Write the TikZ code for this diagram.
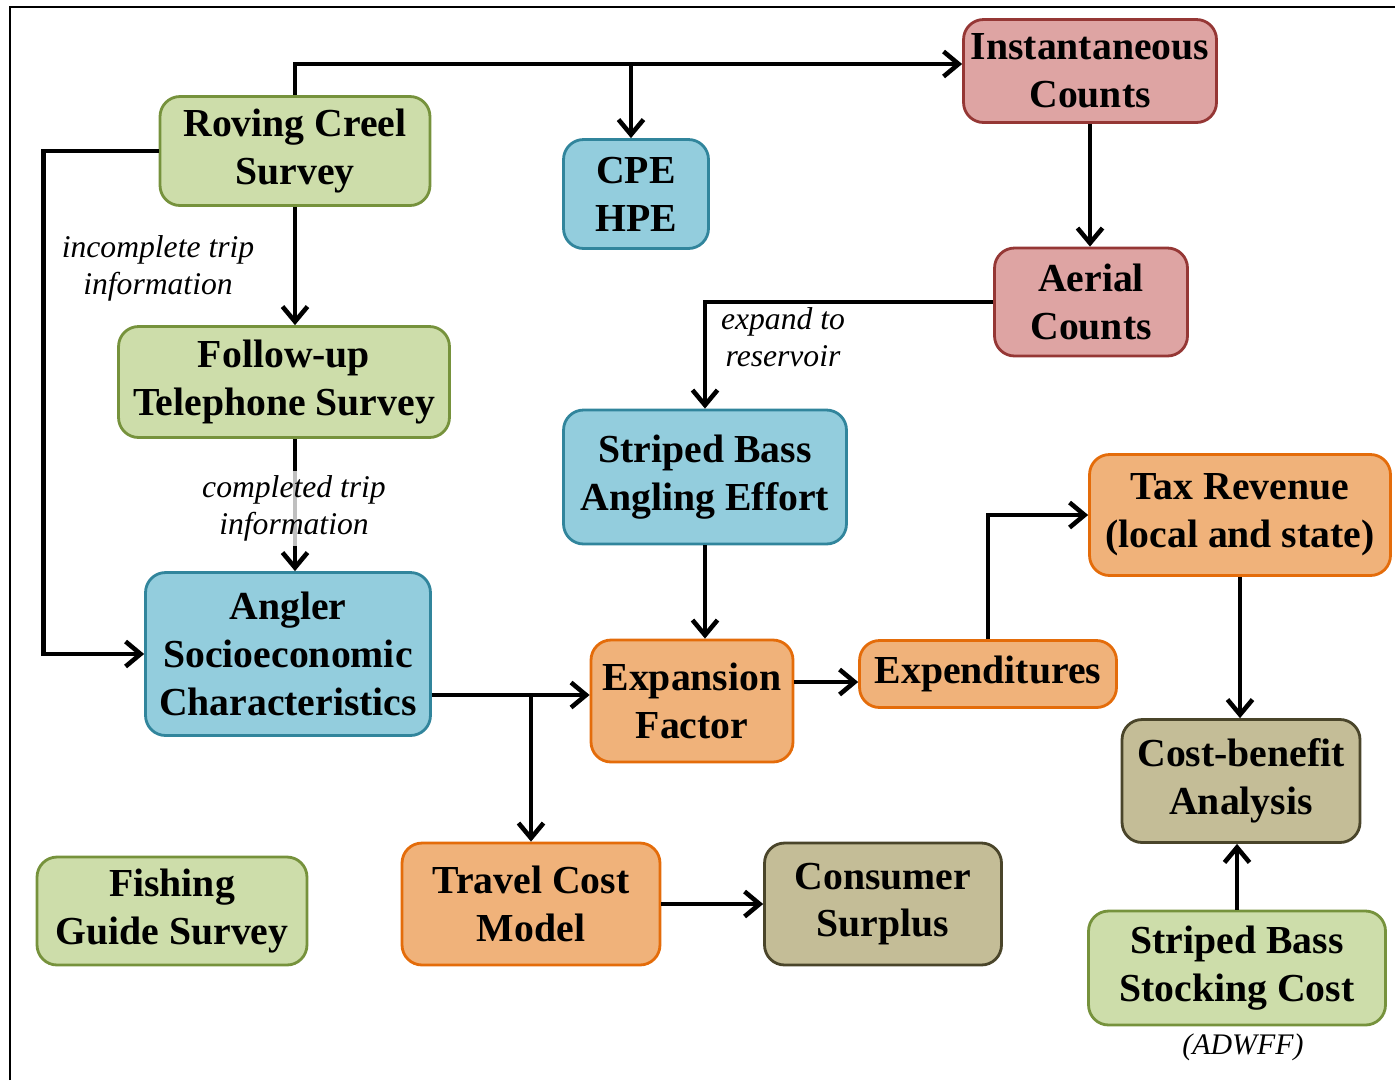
\documentclass[tikz,border=0pt]{standalone}
\usepackage{fontspec}
\setmainfont{Liberation Serif}
\usetikzlibrary{arrows.meta,calc}
\definecolor{greenfill}{RGB}{205,221,170}
\definecolor{greenline}{RGB}{118,146,60}
\definecolor{bluefill}{RGB}{147,205,221}
\definecolor{blueline}{RGB}{49,133,156}
\definecolor{redfill}{RGB}{222,164,163}
\definecolor{redline}{RGB}{149,55,53}
\definecolor{orangefill}{RGB}{240,178,122}
\definecolor{orangeline}{RGB}{228,108,10}
\definecolor{tanfill}{RGB}{196,189,151}
\definecolor{tanline}{RGB}{74,69,42}
\begin{document}
\begin{tikzpicture}
    [x=0.02cm,y=-0.02cm,
     box/.style={rounded corners=0.4cm,line width=1.6pt,align=center,inner sep=0pt,
       font=\bfseries\fontsize{22.6}{27.2}\selectfont},
     gbox/.style={box,draw=greenline,fill=greenfill},
     bbox/.style={box,draw=blueline,fill=bluefill},
     rbox/.style={box,draw=redline,fill=redfill},
     obox/.style={box,draw=orangeline,fill=orangefill},
     tbox/.style={box,draw=tanline,fill=tanfill},
     note/.style={align=center,inner sep=0pt,font=\itshape\fontsize{18}{21}\selectfont},
     post/.style={-{Straight Barb[length=0.3cm,width=0.5cm]},line width=2.6pt}]
    \useasboundingbox (0,0) rectangle (1395,1080);
    \draw [line width=1.2pt] (10,1080) -- (10,7) -- (1395,7);
    \node [gbox,minimum width=5.4cm,minimum height=2.18cm] (RC) at (295,151) {Roving Creel\\Survey};
    \node [bbox,minimum width=2.9cm,minimum height=2.18cm] (CPE) at (636,194) {CPE\\HPE};
    \node [rbox,minimum width=5.06cm,minimum height=2.06cm] (IC) at (1090,71) {Instantaneous\\Counts};
    \node [rbox,minimum width=3.86cm,minimum height=2.16cm] (AC) at (1091,302) {Aerial\\Counts};
    \node [gbox,minimum width=6.62cm,minimum height=2.22cm] (FT) at (284,382) {Follow-up\\Telephone Survey};
    \node [bbox,minimum width=5.66cm,minimum height=2.68cm] (SB) at (705,477) {Striped Bass\\Angling Effort};
    \node [obox,minimum width=6.02cm,minimum height=2.42cm] (TR) at (1240,515) {Tax Revenue\\(local and state)};
    \node [bbox,minimum width=5.7cm,minimum height=3.26cm] (AS) at (288,654) {Angler\\Socioeconomic\\Characteristics};
    \node [obox,minimum width=4.04cm,minimum height=2.44cm] (EF) at (692,701) {Expansion\\Factor};
    \node [obox,minimum width=5.14cm,minimum height=1.34cm] (EX) at (988,674) {Expenditures};
    \node [tbox,minimum width=4.76cm,minimum height=2.46cm] (CB) at (1241,781) {Cost-benefit\\Analysis};
    \node [gbox,minimum width=5.4cm,minimum height=2.16cm] (FG) at (172,911) {Fishing\\Guide Survey};
    \node [obox,minimum width=5.16cm,minimum height=2.44cm] (TC) at (531,904) {Travel Cost\\Model};
    \node [tbox,minimum width=4.74cm,minimum height=2.44cm] (CS) at (883,904) {Consumer\\Surplus};
    \node [gbox,minimum width=5.94cm,minimum height=2.28cm] (SC) at (1237,968) {Striped Bass\\Stocking Cost};
    \node [note,font=\itshape\fontsize{17}{20}\selectfont] (AD) at (1243,1047) {(ADWFF)};
    % connectors
    \coordinate (T) at ($(RC.north)+(0,-33)$);
    \coordinate (J) at ($(AS.east)+(0,41)$);
    \draw [post] (RC.north) |- ($(IC.west)+(0,-7)$);
    \draw [post] ($(CPE.north |- T)+(-5,0)$) -- ($(CPE.north)+(-5,0)$);
    \draw [post] (RC.west) -- ++(-115,0) |- (AS.west);
    \draw [post] (RC.south) -- (FT.north -| RC.south);
    \draw [post] (FT.south -| RC.south) -- (AS.north -| RC.south);
    \draw [post] (IC.south) -- (AC.north -| IC.south);
    \draw [post] (AC.west) -| (SB.north);
    \draw [post] (SB.south) -- (EF.north -| SB.south);
    \draw [post] (J) -- (EF.west |- J);
    \draw [post] (TC.north |- J) -- (TC.north);
    \draw [post] ($(EF.east |- EX.west)+(0,8)$) -- ($(EX.west)+(0,8)$);
    \draw [post] (EX.north) |- (TR.west);
    \draw [post] (TR.south) -- (CB.north -| TR.south);
    \draw [post] (TC.east) -- (CS.west);
    \draw [post] (SC.north) -- (CB.south -| SC.north);
    % labels
    \node [note] (L1) at (158,268) {incomplete trip\\information};
    \node [note,fill=white,fill opacity=0.75,text opacity=1,minimum width=5.9cm,minimum height=1.5cm] (L2) at (294,508) {completed trip\\information};
    \node [note] (L3) at (783,337) {expand to\\reservoir};
\end{tikzpicture}
\end{document}
